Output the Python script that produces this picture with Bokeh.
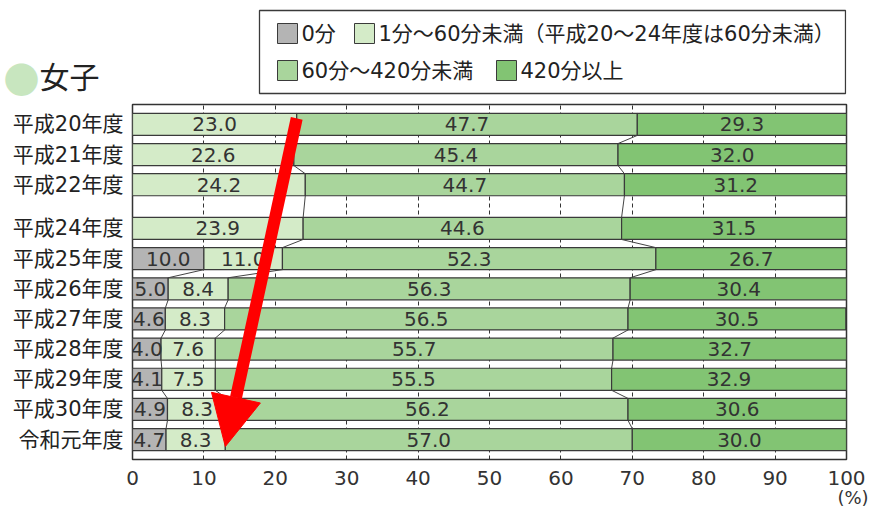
from bokeh.plotting import figure
from bokeh.layouts import column
from bokeh.models import Range1d, FixedTicker, Arrow, NormalHead, ColumnDataSource
from bokeh.core.properties import value
from bokeh.embed import file_html
from bokeh.resources import INLINE

# ---------------- data ----------------
years = ["平成20年度", "平成21年度", "平成22年度", "平成24年度", "平成25年度", "平成26年度",
         "平成27年度", "平成28年度", "平成29年度", "平成30年度", "令和元年度"]
zero_min = [None, None, None, None, 10.0, 5.0, 4.6, 4.0, 4.1, 4.9, 4.7]
under_60 = [23.0, 22.6, 24.2, 23.9, 11.0, 8.4, 8.3, 7.6, 7.5, 8.3, 8.3]
from_60_to_420 = [47.7, 45.4, 44.7, 44.6, 52.3, 56.3, 56.5, 55.7, 55.5, 56.2, 57.0]
over_420 = [29.3, 32.0, 31.2, 31.5, 26.7, 30.4, 30.5, 32.7, 32.9, 30.6, 30.0]
legend_labels = ["0分", "1分～60分未満（平成20～24年度は60分未満）", "60分～420分未満", "420分以上"]
x_ticks = [0, 10, 20, 30, 40, 50, 60, 70, 80, 90, 100]
title_text = "女子"
unit_text = "(%)"

colors = ["#b4b4b4", "#d4ebc8", "#a9d59c", "#82c473"]
NUM = "DejaVu Sans, Noto Sans CJK JP"
JP = "DejaVu Sans, Noto Sans CJK JP"
EDGE = "#3a3a3a"
TXT = "#333333"

# page layout (pixels)
LEFT, RIGHT = 132, 26
W = 872
HDR_H = 102

# ---------------- layout helpers ----------------
n = len(years)
gap_before = years.index("平成24年度")  # missing 平成23年度 -> extra gap
GAP = 0.45
ypos = [(n - 1 - i) + (GAP if i < gap_before else 0.0) for i in range(n)]
H = 0.73

z = [v if v is not None else 0.0 for v in zero_min]
b1 = z
b2 = [a + b for a, b in zip(b1, under_60)]
b3 = [a + b for a, b in zip(b2, from_60_to_420)]
b4 = [a + b for a, b in zip(b3, over_420)]

# ---------------- header figure (data units == page pixels) ----------------
hdr = figure(width=W, height=HDR_H, x_range=Range1d(LEFT, W - RIGHT), y_range=Range1d(HDR_H, 0),
             x_axis_type=None, y_axis_type=None, toolbar_location=None,
             output_backend="svg", min_border_left=LEFT, min_border_right=RIGHT,
             min_border_top=0, min_border_bottom=0, outline_line_color=None)
hdr.grid.visible = False
r = hdr.text(x=[21], y=[77], text=["●"], text_font=value("Noto Sans CJK JP"), text_font_size="36px",
             text_color="#c8e6bf", text_baseline="middle", text_align="center")
r.level = "annotation"
r = hdr.text(x=[39], y=[77], text=[title_text], text_font=value(JP), text_font_size="30px",
             text_color="#222222", text_baseline="middle", text_align="left")
r.level = "annotation"
hdr.quad(left=[259], right=[845], top=[10], bottom=[93], fill_color="white",
         line_color=EDGE, line_width=1.3)
sw_x = [287, 364, 287, 506]
sw_y = [33, 33, 70, 70]
hdr.rect(x=sw_x, y=sw_y, width=20, height=20, fill_color=colors, line_color=EDGE, line_width=1)
hdr.text(x=[x + 14 for x in sw_x], y=sw_y, text=legend_labels, text_font=value(JP),
         text_font_size="21px", text_color="#222222", text_baseline="middle", text_align="left")

# ---------------- main figure ----------------
p = figure(width=W, height=510 - HDR_H, x_range=Range1d(0, 100), y_range=Range1d(-0.66, 11.11),
           toolbar_location=None, output_backend="svg",
           min_border_left=LEFT, min_border_right=RIGHT, min_border_top=2, min_border_bottom=51)
p.outline_line_color = "#333333"
p.outline_line_width = 1.5

p.xgrid.ticker = FixedTicker(ticks=x_ticks[1:-1])
p.xgrid.grid_line_color = "#333333"
p.xgrid.grid_line_dash = "4 3"
p.xgrid.grid_line_width = 1
p.ygrid.visible = False

p.xaxis.ticker = FixedTicker(ticks=x_ticks)
p.xaxis.axis_line_color = None
p.xaxis.major_tick_line_color = None
p.xaxis.minor_tick_line_color = None
p.xaxis.major_label_text_font = NUM
p.xaxis.major_label_text_font_size = "20px"
p.xaxis.major_label_text_color = TXT
p.xaxis.major_label_standoff = 5

p.yaxis.ticker = FixedTicker(ticks=ypos)
p.yaxis.major_label_overrides = {yv: lab for yv, lab in zip(ypos, years)}
p.yaxis.axis_line_color = None
p.yaxis.major_tick_line_color = None
p.yaxis.minor_tick_line_color = None
p.yaxis.major_label_text_font = JP
p.yaxis.major_label_text_font_size = "21px"
p.yaxis.major_label_text_color = "#222222"
p.yaxis.major_label_standoff = 3

segs = [
    (zero_min, [0.0] * n, b1),
    (under_60, b1, b2),
    (from_60_to_420, b2, b3),
    (over_420, b3, b4),
]
lab_x, lab_y, lab_t = [], [], []
for k, (vals, lefts, rights) in enumerate(segs):
    idx = [i for i in range(n) if vals[i] is not None]
    src = ColumnDataSource(dict(y=[ypos[i] for i in idx], left=[lefts[i] for i in idx],
                                right=[rights[i] for i in idx]))
    p.hbar(y="y", left="left", right="right", height=H, source=src,
           fill_color=colors[k], line_color=EDGE, line_width=1.2)
    for i in idx:
        lab_x.append((lefts[i] + rights[i]) / 2)
        lab_y.append(ypos[i])
        lab_t.append(f"{vals[i]:.1f}")

# connector lines between consecutive bars
x0, y0, x1, y1 = [], [], [], []
for i in range(n - 1):
    bounds = [b2, b3]
    if zero_min[i] is not None and zero_min[i + 1] is not None:
        bounds = [b1] + bounds
    for b in bounds:
        x0.append(b[i]); y0.append(ypos[i] - H / 2)
        x1.append(b[i + 1]); y1.append(ypos[i + 1] + H / 2)
p.segment(x0=x0, y0=y0, x1=x1, y1=y1, line_color="#444444", line_width=1)

p.text(x=lab_x, y=lab_y, text=lab_t, text_font=value(NUM), text_font_size="20px",
       text_color=TXT, text_align="center", text_baseline="middle")

# red arrow annotation
p.add_layout(Arrow(end=NormalHead(size=50, fill_color="#ff0000", line_color="#ff0000"),
                   x_start=b2[0], y_start=ypos[0] + 0.2, x_end=b2[-1], y_end=ypos[-1] - 0.23,
                   line_color="#ff0000", line_width=12))

# unit label below the right end of the axis
r = p.text(x=[103.1], y=[-1.92], text=[unit_text], text_font=value(JP), text_font_size="18px",
           text_color=TXT, text_align="right", text_baseline="middle")
r.level = "annotation"

layout = column(hdr, p, spacing=0)
open("out.html", "w").write(file_html(layout, INLINE))
